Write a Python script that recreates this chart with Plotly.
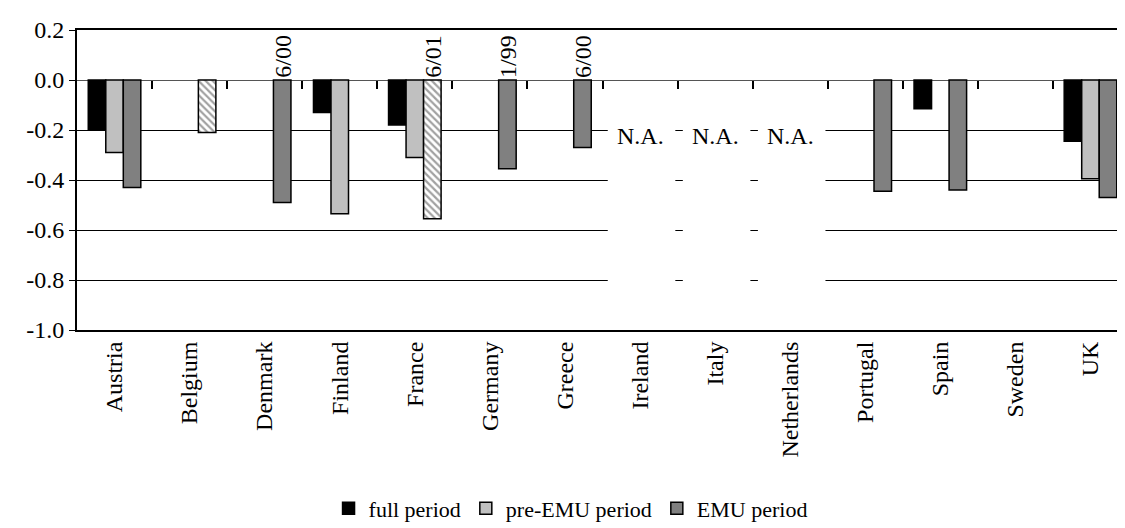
import plotly.graph_objects as go

countries = ["Austria", "Belgium", "Denmark", "Finland", "France", "Germany", "Greece",
             "Ireland", "Italy", "Netherlands", "Portugal", "Spain", "Sweden", "UK"]
full_period = [-0.20, None, None, -0.13, -0.18, None, None, None, None, None, None, -0.115, None, -0.245]
pre_emu = [-0.29, None, None, -0.535, -0.31, None, None, None, None, None, None, None, None, -0.395]
emu = [-0.43, -0.21, -0.49, None, -0.555, -0.355, -0.27, None, None, None, -0.445, -0.44, None, -0.47]
emu_hatched = [False, True, False, False, True, False, False, False, False, False, False, False, False, False]
emu_notes = {"Denmark": "6/00", "France": "6/01", "Germany": "1/99", "Greece": "6/00"}
na_countries = ["Ireland", "Italy", "Netherlands"]
y_ticks = [0.2, 0.0, -0.2, -0.4, -0.6, -0.8, -1.0]

FONT = "Liberation Serif"
FS = 24
LFS = 22

fig = go.Figure()
fig.add_trace(go.Bar(x=countries, y=full_period, name="full period",
                     marker=dict(color="#000000", line=dict(color="#000000", width=1.5))))
fig.add_trace(go.Bar(x=countries, y=pre_emu, name="pre-EMU period",
                     marker=dict(color="#C0C0C0", line=dict(color="#000000", width=1.5))))
fig.add_trace(go.Bar(
    x=countries, y=emu, name="EMU period",
    marker=dict(
        color=["#FFFFFF" if h else "#808080" for h in emu_hatched],
        line=dict(color="#000000", width=1.5),
        pattern=dict(shape=["\\" if h else "" for h in emu_hatched],
                     bgcolor="#FFFFFF", fgcolor="#000000", size=5, solidity=0.45),
    )))

# invisible trace so the zero-line tick axis is drawn
fig.add_trace(go.Scatter(x=[0], y=[0], xaxis="x2", mode="markers",
                         marker=dict(opacity=0), showlegend=False, hoverinfo="skip"))

annotations = []
bar_w = 75 * 0.7 / 3
for c, t in emu_notes.items():
    annotations.append(dict(x=c, y=0, xref="x", yref="y", text=t, showarrow=False,
                            textangle=-90, xanchor="center", yanchor="bottom",
                            xshift=bar_w, yshift=0, font=dict(family=FONT, size=FS, color="black")))
shapes = []
for c in na_countries:
    i = countries.index(c)
    annotations.append(dict(x=c, y=-0.225, xref="x", yref="y", text="N.A.", showarrow=False,
                            xanchor="center", yanchor="middle",
                            font=dict(family=FONT, size=FS, color="black")))
    shapes.append(dict(type="rect", xref="x", yref="y", x0=i - 0.43, x1=i + 0.47,
                       y0=-0.92, y1=-0.12, fillcolor="white", line=dict(width=0), layer="between"))

fig.update_layout(
    width=1125, height=528,
    margin=dict(l=69, r=5, t=22, b=206, autoexpand=False),
    paper_bgcolor="white", plot_bgcolor="white",
    barmode="group", bargap=0.3, bargroupgap=0,
    font=dict(family=FONT, size=FS, color="black"),
    showlegend=True,
    legend=dict(orientation="h", x=0.4696, xanchor="center",
                y=-0.595, yanchor="middle",
                font=dict(family=FONT, size=LFS, color="black"), itemwidth=30,
                traceorder="normal", tracegroupgap=0),
    annotations=annotations,
    shapes=shapes,
    xaxis=dict(type="category", range=[-0.5, 13.5], tickangle=-90, showgrid=False,
               showline=True, linecolor="black", linewidth=2, mirror=True, ticks="",
               tickfont=dict(family=FONT, size=FS, color="black")),
    xaxis2=dict(overlaying="x", anchor="free", position=250 / 300, range=[-0.5, 13.5],
                tickmode="array", tickvals=[i + 0.5 for i in range(len(countries) - 1)],
                ticks="outside", ticklen=8, tickcolor="black", tickwidth=1.5,
                showticklabels=False, showgrid=False, zeroline=False, showline=False),
    yaxis=dict(range=[-1.0, 0.2], tickmode="array", tickvals=y_ticks,
               ticktext=["%.1f" % v if v != 0 else "0.0" for v in y_ticks],
               showgrid=True, gridcolor="black", gridwidth=1,
               zeroline=True, zerolinecolor="#555555", zerolinewidth=1,
               showline=True, linecolor="black", linewidth=2, mirror=True,
               ticks="outside", ticklen=6, tickcolor="black",
               tickfont=dict(family=FONT, size=FS, color="black")),
)

fig.write_html("out.html")
